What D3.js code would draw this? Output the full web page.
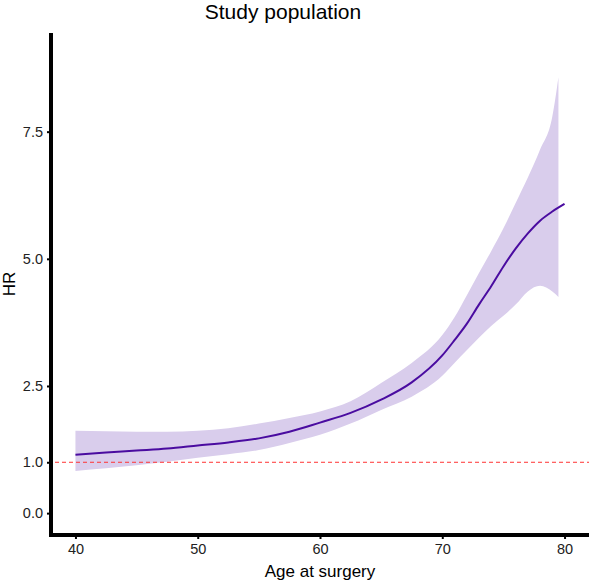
<!DOCTYPE html>
<html lang="en">
<head>
    <meta charset="UTF-8">
    <title>Study population</title>
    <script src="https://d3js.org/d3.v7.min.js"></script>
    <style>
        body { margin: 0; background: white; }
        text { font-family: "Liberation Sans", Arial, sans-serif; }
    </style>
</head>
<body>
    <script>
        // fitted curve
        var ages = [40, 42.5, 45, 47.5, 50, 52.5, 55, 57.5, 60, 62.5, 65, 67.5, 70, 71, 72, 73, 74, 75, 76, 77, 78, 79, 80];
        var hr = [1.15, 1.19, 1.23, 1.27, 1.33, 1.39, 1.47, 1.60, 1.78, 1.97, 2.23, 2.57, 3.10, 3.40, 3.72, 4.10, 4.46, 4.85, 5.20, 5.50, 5.75, 5.93, 6.08];
        // confidence band
        var bandAges = [40, 42.5, 45, 47.5, 50, 52.5, 55, 57.5, 60, 62.5, 65, 67.5, 70, 71, 72, 73, 74, 75, 76, 77, 78, 79, 79.5];
        var upper = [1.62, 1.61, 1.60, 1.60, 1.62, 1.67, 1.76, 1.87, 2.00, 2.20, 2.56, 2.95, 3.50, 3.85, 4.28, 4.72, 5.15, 5.60, 6.10, 6.60, 7.15, 7.80, 8.57];
        var lower = [0.83, 0.88, 0.94, 1.01, 1.09, 1.16, 1.24, 1.38, 1.54, 1.76, 2.03, 2.29, 2.70, 2.95, 3.20, 3.45, 3.68, 3.88, 4.10, 4.36, 4.47, 4.36, 4.25];
        var xTicks = [40, 50, 60, 70, 80];
        var yTicks = [0, 1, 2.5, 5, 7.5];

        var width = 589, height = 582;
        var mLeft = 51, mRight = 589, mTop = 33, mBottom = 535;

        var svg = d3.select("body").append("svg")
            .attr("width", width)
            .attr("height", height);

        var x = d3.scaleLinear().domain([38, 82]).range([mLeft, mRight]);
        var y = d3.scaleLinear().domain([-0.43, 9.44]).range([mBottom, mTop]);

        var band = bandAges.map(function(a, i) { return {a: a, lo: lower[i], hi: upper[i]}; });
        var line = ages.map(function(a, i) { return {a: a, v: hr[i]}; });

        svg.append("path")
            .datum(band)
            .attr("fill", "#d9cdec")
            .attr("d", d3.area()
                .curve(d3.curveMonotoneX)
                .x(function(d) { return x(d.a); })
                .y0(function(d) { return y(d.lo); })
                .y1(function(d) { return y(d.hi); }));

        // reference line at HR = 1
        svg.append("line")
            .attr("x1", mLeft + 4).attr("x2", mRight)
            .attr("y1", y(1)).attr("y2", y(1))
            .attr("stroke", "#ff3333")
            .attr("stroke-width", 1)
            .attr("stroke-dasharray", "4,3");

        svg.append("path")
            .datum(line)
            .attr("fill", "none")
            .attr("stroke", "#4a0ca0")
            .attr("stroke-width", 2)
            .attr("d", d3.line()
                .curve(d3.curveMonotoneX)
                .x(function(d) { return x(d.a); })
                .y(function(d) { return y(d.v); }));

        // axes
        var gx = svg.append("g")
            .attr("transform", "translate(0," + mBottom + ")")
            .call(d3.axisBottom(x).tickValues(xTicks).tickSize(4).tickPadding(5));
        var gy = svg.append("g")
            .attr("transform", "translate(" + mLeft + ",0)")
            .call(d3.axisLeft(y).tickValues(yTicks).tickSize(4).tickPadding(4)
                .tickFormat(d3.format(".1f")));
        [gx, gy].forEach(function(g) {
            g.select(".domain").remove();
            g.selectAll(".tick line").attr("stroke", "#000").attr("stroke-width", 2);
            g.selectAll(".tick text").attr("fill", "#222").style("font-size", "14.5px")
                .style("font-family", "'Liberation Sans', Arial, sans-serif");
        });

        svg.append("line")
            .attr("x1", mLeft).attr("x2", mLeft)
            .attr("y1", mTop).attr("y2", mBottom + 2)
            .attr("stroke", "#000").attr("stroke-width", 4);
        svg.append("line")
            .attr("x1", mLeft - 2).attr("x2", mRight)
            .attr("y1", mBottom).attr("y2", mBottom)
            .attr("stroke", "#000").attr("stroke-width", 4);

        svg.append("text")
            .attr("x", 283).attr("y", 19)
            .attr("text-anchor", "middle")
            .style("font-size", "21px")
            .text("Study population");

        svg.append("text")
            .attr("x", 320).attr("y", 577)
            .attr("text-anchor", "middle")
            .style("font-size", "17px")
            .text("Age at surgery");

        svg.append("text")
            .attr("transform", "translate(15,284) rotate(-90)")
            .attr("text-anchor", "middle")
            .style("font-size", "17px")
            .text("HR");
    </script>
</body>
</html>
